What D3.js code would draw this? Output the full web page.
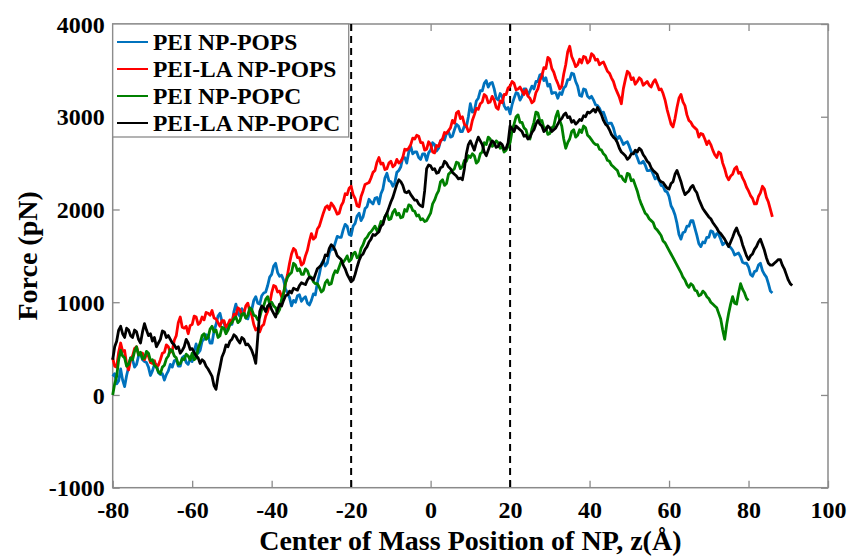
<!DOCTYPE html>
<html>
<head>
<meta charset="utf-8">
<script src="https://cdn.jsdelivr.net/npm/d3@7"></script>
<style>
  html, body { margin: 0; padding: 0; background: #fff; }
  svg text { font-family: "Liberation Serif", "Times New Roman", serif; font-weight: bold; }
</style>
</head>
<body>
<svg id="chart" width="852" height="559"></svg>
<script>
// Pulling force on the nanoparticle vs. its centre-of-mass position.
// Each row below holds one 10 Å stretch sampled every 0.5 Å, starting at z = -80 Å.
const seriesNames = ["PEI NP-POPS", "PEI-LA NP-POPS", "PEI NP-POPC", "PEI-LA NP-POPC"];
const seriesColors = ["#0072BD", "#FF0000", "#008000", "#000000"];
const firstRowStart = -80;  // Å
const rowSpan = 10;         // Å per row
const sampleStep = 0.5;     // Å between samples

const peiPops = [
  [200,230,120,150,280,160,90,210,300,400,380,300,330,420,450,380,360,350,300,210],
  [260,330,330,240,220,230,160,220,260,330,300,370,380,310,310,400,420,350,330,390],
  [360,470,550,450,480,580,600,650,640,560,560,690,760,850,880,790,780,700,700,790],
  [760,900,980,880,850,930,900,830,820,900,920,1020,1060,990,980,1070,1100,1110,1180,1270],
  [1300,1390,1420,1320,1280,1290,1240,1140,1100,1050,960,1020,1000,1070,1080,1010,1040,1060,990,970],
  [1020,1090,1080,1210,1300,1410,1450,1390,1420,1530,1580,1570,1640,1710,1700,1700,1780,1840,1820,1730],
  [1720,1820,1850,1930,1960,1880,1920,2010,2030,2110,2080,2060,2120,2130,2060,2170,2220,2340,2390,2310],
  [2300,2250,2290,2400,2420,2460,2560,2560,2500,2620,2680,2600,2620,2620,2560,2540,2600,2600,2530,2610],
  [2640,2720,2700,2630,2660,2740,2760,2750,2820,2840,2780,2790,2860,2920,2900,2840,2840,2900,2890,3000],
  [3140,3050,3060,3170,3200,3280,3280,3360,3390,3320,3360,3370,3300,3200,3180,3250,3220,3120,3080,3100],
  [3030,3130,3200,3260,3250,3180,3220,3300,3300,3230,3280,3330,3300,3380,3380,3450,3460,3390,3420,3330],
  [3350,3250,3260,3260,3200,3260,3240,3310,3330,3400,3400,3470,3460,3380,3330,3230,3220,3300,3290,3220],
  [3200,3220,3180,3130,3120,3090,3040,3050,2990,2920,2930,2930,2880,2800,2760,2790,2750,2700,2720,2730],
  [2680,2620,2600,2610,2560,2500,2500,2520,2480,2420,2420,2430,2380,2330,2350,2310,2260,2250,2200,2190],
  [2140,2040,2000,1940,1850,1730,1680,1750,1760,1820,1820,1880,1880,1800,1720,1630,1600,1650,1640,1700],
  [1700,1770,1760,1700,1740,1730,1680,1620,1640,1640,1600,1590,1560,1510,1520,1530,1490,1430,1420,1420],
  [1380,1300,1280,1330,1340,1400,1420,1340,1300,1270,1200,1120,1100]
];
const peiLaPops = [
  [400,310,300,460,560,470,480,330,270,380,420,500,520,440,450,450,380,440,420,350],
  [340,370,300,320,380,450,460,540,520,460,480,590,640,780,840,730,720,740,660,750],
  [760,850,840,760,780,840,810,890,880,860,910,830,820,780,740,800,800,730,760,810],
  [780,870,860,940,920,860,880,960,990,900,860,760,700,720,680,740,760,850,900,980],
  [1100,1180,1170,1110,1120,1060,1090,1210,1300,1420,1520,1580,1560,1480,1480,1400,1420,1500,1560,1660],
  [1740,1680,1700,1790,1820,1890,1960,2020,2040,2000,2070,2040,2000,1950,1960,2040,2080,2170,2160,2230],
  [2250,2160,2120,2040,2030,2140,2200,2270,2280,2290,2340,2400,2420,2510,2560,2490,2500,2430,2440,2500],
  [2520,2460,2480,2540,2500,2520,2560,2650,2640,2660,2700,2770,2760,2800,2790,2720,2720,2640,2650,2730],
  [2700,2620,2610,2690,2680,2740,2760,2830,2820,2850,2880,2960,2930,3040,3060,2980,3000,2920,2900,2840],
  [2860,2960,3020,3090,3080,3140,3160,3240,3220,3150,3160,3220,3180,3100,3080,3170,3150,3240,3240,3310],
  [3330,3380,3360,3290,3300,3320,3280,3240,3290,3220,3200,3150,3170,3260,3300,3390,3440,3530,3520,3640],
  [3620,3520,3480,3410,3360,3300,3330,3460,3560,3700,3760,3650,3600,3540,3560,3620,3580,3650,3640,3580],
  [3600,3680,3660,3610,3620,3560,3580,3590,3540,3490,3470,3420,3380,3310,3260,3210,3140,3300,3400,3490],
  [3470,3400,3420,3350,3380,3420,3400,3340,3360,3380,3340,3320,3370,3400,3350,3290,3300,3250,3180,3080],
  [3000,2920,2890,2980,3100,3200,3240,3160,3120,3020,2960,2940,2900,2880,2860,2780,2820,2810,2760,2700],
  [2740,2700,2640,2590,2560,2620,2600,2500,2440,2360,2320,2360,2380,2440,2460,2390,2400,2340,2300,2240],
  [2200,2150,2120,2060,2060,2140,2180,2250,2220,2130,2080,2000,1920]
];
const peiPopc = [
  [0,120,200,380,480,420,400,310,330,400,380,470,520,430,460,390,400,470,450,370],
  [380,320,300,250,230,300,320,390,420,490,480,420,400,330,340,390,380,440,420,380],
  [450,380,400,500,560,640,660,600,620,710,740,680,700,620,640,730,720,660,700,760],
  [780,820,840,780,800,870,880,830,860,940,920,860,850,810,840,920,960,1030,1060,980],
  [1000,960,940,880,920,1030,1100,1210,1270,1300,1320,1420,1400,1340,1360,1300,1300,1360,1340,1280],
  [1270,1220,1200,1200,1160,1110,1130,1210,1240,1190,1200,1290,1340,1320,1380,1440,1430,1460,1500,1440],
  [1460,1520,1540,1480,1490,1580,1620,1680,1700,1740,1760,1790,1820,1770,1800,1870,1860,1920,1960,1890],
  [1900,1970,2000,1940,1960,1910,1920,2000,1980,2050,2040,1990,1980,1930,1940,1890,1900,1870,1880,1920],
  [1960,2060,2100,2160,2200,2300,2320,2260,2280,2380,2400,2420,2440,2510,2500,2440,2460,2530,2520,2580],
  [2560,2600,2580,2500,2520,2600,2620,2720,2700,2780,2760,2680,2700,2740,2720,2660,2680,2620,2640,2680],
  [2720,2850,2920,3000,3020,2940,2940,2880,2860,2780,2760,2870,2940,3050,3040,2950,2960,2880,2880,2810],
  [2820,2880,2900,3000,3060,2960,2900,2760,2660,2720,2760,2840,2860,2780,2800,2860,2830,2900,2880,2800],
  [2780,2750,2720,2700,2700,2650,2640,2600,2580,2530,2520,2480,2460,2440,2420,2360,2360,2320,2300,2390],
  [2380,2310,2320,2260,2200,2120,2060,2010,1960,1940,1900,1880,1860,1800,1780,1750,1720,1660,1640,1600],
  [1560,1520,1480,1440,1400,1360,1320,1270,1240,1190,1160,1200,1180,1130,1120,1070,1080,1120,1100,1060],
  [1040,1000,980,960,940,880,820,700,600,760,880,980,1060,990,980,1100,1200,1140,1100,1040],
  [1020]
];
const peiLaPopc = [
  [380,520,580,700,740,660,620,720,700,640,620,700,680,600,560,680,770,700,640,660],
  [580,620,520,560,600,690,680,620,640,600,560,540,500,520,450,480,520,600,560,490],
  [500,460,420,400,340,380,360,310,280,240,200,100,60,200,300,410,460,540,520,580],
  [600,650,630,590,560,620,600,540,550,520,480,420,340,620,900,960,940,900,960,980],
  [920,880,840,920,980,960,1020,1070,1080,1120,1100,1150,1140,1130,1180,1210,1200,1190,1240,1270],
  [1260,1240,1300,1360,1380,1400,1440,1510,1500,1580,1620,1600,1560,1500,1480,1460,1400,1360,1300,1260],
  [1220,1240,1300,1380,1450,1500,1520,1570,1600,1650,1680,1730,1720,1740,1760,1820,1840,1920,1960,2020],
  [2080,2130,2200,2270,2320,2300,2260,2190,2180,2200,2160,2130,2100,2100,2060,2040,2030,2200,2440,2480],
  [2470,2430,2440,2390,2400,2450,2460,2520,2500,2460,2440,2400,2380,2360,2330,2340,2320,2440,2600,2700],
  [2740,2690,2640,2720,2780,2740,2700,2620,2580,2640,2700,2740,2720,2670,2680,2720,2700,2650,2660,2720],
  [2900,2870,2840,2900,2880,2860,2840,2790,2800,2760,2780,2830,2860,2920,2960,2920,2900,2840,2860,2900],
  [2880,2840,2860,2880,2920,2960,2980,3020,3040,2990,3000,2940,2960,2920,2940,2970,2960,3010,3000,3050],
  [3040,3060,3080,3050,3100,3060,3020,2960,2920,2900,2860,2810,2780,2760,2720,2660,2620,2600,2580,2540],
  [2560,2600,2600,2640,2620,2660,2640,2590,2560,2520,2500,2450,2420,2400,2380,2320,2300,2290,2260,2230],
  [2220,2280,2300,2380,2420,2360,2300,2220,2160,2180,2200,2240,2260,2210,2180,2110,2060,2010,1980,1950],
  [1920,1900,1860,1830,1800,1760,1740,1710,1680,1640,1600,1650,1700,1760,1800,1740,1700,1620,1560,1500],
  [1460,1500,1520,1570,1600,1650,1680,1620,1560,1480,1420,1400,1400,1420,1440,1460,1460,1400,1360,1300],
  [1240,1200,1180]
];
const seriesValues = [peiPops, peiLaPops, peiPopc, peiLaPopc];

const xTicks = [-80, -60, -40, -20, 0, 20, 40, 60, 80, 100];
const yTicks = [-1000, 0, 1000, 2000, 3000, 4000];
const markerPositions = [-20, 20];   // dashed reference lines, Å

const xLabel = "Center of Mass Position of NP, z(Å)";
const yLabel = "Force (pN)";

// ---- layout ----
const svg = d3.select("#chart");
const plotLeft = 112.7, plotRight = 828, plotTop = 24, plotBottom = 487.7;
const axisColor = "#8a8a8a";
const tickLen = 7;

const x = d3.scaleLinear().domain([-80, 100]).range([plotLeft, plotRight]);
const y = d3.scaleLinear().domain([-1000, 4000]).range([plotBottom, plotTop]);
const plainNumber = d => String(d);   // ASCII hyphen for negatives

// frame ticks on all four sides, pointing inward
const axB = svg.append("g").attr("transform", `translate(0,${plotBottom})`)
  .call(d3.axisBottom(x).tickValues(xTicks).tickSizeInner(-tickLen).tickSizeOuter(0).tickFormat(plainNumber));
const axT = svg.append("g").attr("transform", `translate(0,${plotTop})`)
  .call(d3.axisTop(x).tickValues(xTicks).tickSizeInner(-tickLen).tickSizeOuter(0).tickFormat(""));
const axL = svg.append("g").attr("transform", `translate(${plotLeft},0)`)
  .call(d3.axisLeft(y).tickValues(yTicks).tickSizeInner(-tickLen).tickSizeOuter(0).tickFormat(plainNumber));
const axR = svg.append("g").attr("transform", `translate(${plotRight},0)`)
  .call(d3.axisRight(y).tickValues(yTicks).tickSizeInner(-tickLen).tickSizeOuter(0).tickFormat(""));

[axB, axT, axL, axR].forEach(g => {
  g.select(".domain").remove();
  g.selectAll(".tick line").attr("stroke", axisColor).attr("stroke-width", 1.3);
  g.selectAll("text").attr("fill", "#000").attr("font-size", 24).attr("font-family", null);
});
axB.selectAll(".tick text").attr("dy", 0).attr("y", 30);
axL.selectAll(".tick text").attr("x", -8).attr("dy", "0.34em");

svg.append("rect")
  .attr("x", plotLeft).attr("y", plotTop)
  .attr("width", plotRight - plotLeft).attr("height", plotBottom - plotTop)
  .attr("fill", "none").attr("stroke", axisColor).attr("stroke-width", 1.5);

// dashed reference lines
svg.selectAll("line.marker").data(markerPositions).enter().append("line")
  .attr("class", "marker")
  .attr("x1", d => x(d)).attr("x2", d => x(d))
  .attr("y1", plotTop).attr("y2", plotBottom)
  .attr("stroke", "#000").attr("stroke-width", 2)
  .attr("stroke-dasharray", "7,5");

// force curves: attach each sample to its z position
const toPoints = rows => rows.flatMap((row, r) =>
  row.map((f, j) => ({ z: firstRowStart + r * rowSpan + j * sampleStep, f })));

const line = d3.line()
  .x(d => x(d.z))
  .y(d => y(d.f));

seriesValues.forEach((rows, k) => {
  svg.append("path")
    .datum(toPoints(rows))
    .attr("d", line)
    .attr("fill", "none")
    .attr("stroke", seriesColors[k])
    .attr("stroke-width", 2.8)
    .attr("stroke-linejoin", "round");
});

// axis titles
svg.append("text")
  .attr("x", (plotLeft + plotRight) / 2).attr("y", 550)
  .attr("text-anchor", "middle").attr("font-size", 28)
  .text(xLabel);
svg.append("text")
  .attr("transform", `translate(37,${(plotTop + plotBottom) / 2}) rotate(-90)`)
  .attr("text-anchor", "middle").attr("font-size", 28)
  .text(yLabel);

// legend
const lg = svg.append("g");
lg.append("rect")
  .attr("x", plotLeft).attr("y", plotTop)
  .attr("width", 236).attr("height", 113)
  .attr("fill", "#fff").attr("stroke", axisColor).attr("stroke-width", 1.3);
seriesNames.forEach((name, k) => {
  const cy = 42 + k * 27;
  lg.append("line")
    .attr("x1", 117).attr("x2", 148).attr("y1", cy).attr("y2", cy)
    .attr("stroke", seriesColors[k]).attr("stroke-width", 2);
  lg.append("text")
    .attr("x", 153).attr("y", cy).attr("dy", "0.35em")
    .attr("font-size", 23.5)
    .text(name);
});
</script>
</body>
</html>
